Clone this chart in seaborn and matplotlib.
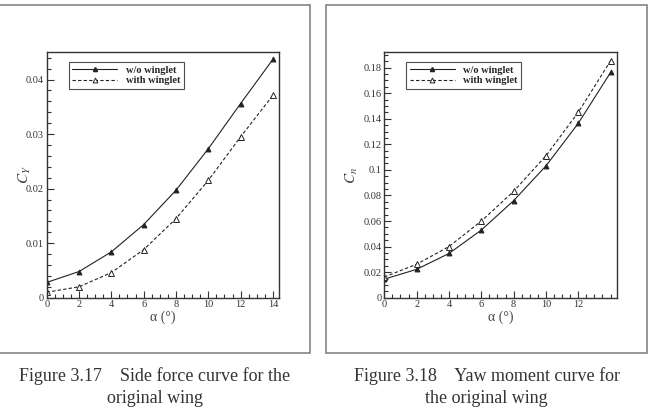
import numpy as np
import pandas as pd
import matplotlib
matplotlib.use("Agg")
import matplotlib.pyplot as plt
import seaborn as sns
from matplotlib.patches import Rectangle
from matplotlib.lines import Line2D
from matplotlib.ticker import MultipleLocator, FuncFormatter

# Data
alpha = [0, 2, 4, 6, 8, 10, 12, 14]
cy_wo = [0.0028, 0.0048, 0.0084, 0.0134, 0.0197, 0.0273, 0.0356, 0.0437]
cy_with = [0.0010, 0.0020, 0.0046, 0.0088, 0.0145, 0.0215, 0.0295, 0.0371]
cn_wo = [0.0145, 0.0222, 0.0346, 0.0529, 0.0759, 0.1031, 0.1364, 0.1762]
cn_with = [0.0162, 0.0262, 0.0400, 0.0599, 0.0832, 0.1110, 0.1450, 0.1853]

series_names = ["w/o winglet", "with winglet"]
left_xticks = [0, 2, 4, 6, 8, 10, 12, 14]
right_xticks = [0, 2, 4, 6, 8, 10, 12]
left_yticks = [0, 0.01, 0.02, 0.03, 0.04]
right_yticks = [0, 0.02, 0.04, 0.06, 0.08, 0.1, 0.12, 0.14, 0.16, 0.18]
captions = ["Figure 3.17    Side force curve for the\noriginal wing",
            "Figure 3.18    Yaw moment curve for\nthe original wing"]

sns.set_style("white")
plt.rcParams["font.family"] = ["Liberation Serif", "DejaVu Serif"]
plt.rcParams["mathtext.fontset"] = "stix"

fig = plt.figure(figsize=(6.48, 4.17), dpi=100)

# outer boxes around each figure
for x0, w in [(-0.003, 0.4815), (0.5031, 0.4960)]:
    fig.patches.append(Rectangle((x0, 0.1535), w, 0.8345, transform=fig.transFigure,
                                 fill=False, edgecolor="#7a7a7a", linewidth=1.1))


def draw_panel(rect, y_wo, y_with, ylim, yticks, ymin_step, xticks, ylabel, ylab_x):
    ax = fig.add_axes(rect)
    df = pd.DataFrame({"alpha": alpha + alpha,
                       "val": y_wo + y_with,
                       "case": [series_names[0]] * len(alpha) + [series_names[1]] * len(alpha)})
    sns.lineplot(data=df[df.case == series_names[0]], x="alpha", y="val", ax=ax,
                 color="#222222", linewidth=0.8, marker="^", markersize=3.5,
                 markerfacecolor="#222222", markeredgecolor="#222222")
    sns.lineplot(data=df[df.case == series_names[1]], x="alpha", y="val", ax=ax,
                 color="#222222", linewidth=0.8, linestyle=(0, (3, 2)), marker="^",
                 markersize=4.5, markerfacecolor="white", markeredgecolor="#222222",
                 markeredgewidth=0.7)
    ax.set_xlim(0, 14.4)
    ax.set_ylim(*ylim)
    ax.set_xticks(xticks)
    ax.set_yticks(yticks)
    ax.xaxis.set_minor_locator(MultipleLocator(0.5))
    ax.yaxis.set_minor_locator(MultipleLocator(ymin_step))
    ax.yaxis.set_major_formatter(FuncFormatter(lambda v, p: "%g" % v))
    ax.tick_params(which="both", direction="in", bottom=True, left=True, top=False,
                   right=False, labelsize=7.5, colors="#333333", labelcolor="#333333",
                   width=0.8, pad=2)
    ax.tick_params(which="major", length=5)
    ax.tick_params(which="minor", length=3)
    for s in ax.spines.values():
        s.set_color("#333333")
        s.set_linewidth(1.0)
    ax.set_xlabel("α (°)", fontsize=10, color="#444444", labelpad=1)
    ax.set_ylabel(ylabel, fontsize=11, color="#444444")
    ax.yaxis.set_label_coords(ylab_x, 0.5)
    handles = [Line2D([], [], color="#222222", lw=0.8, marker="^", markersize=3,
                      markerfacecolor="#222222"),
               Line2D([], [], color="#222222", lw=0.8, ls=(0, (3, 2)), marker="^",
                      markersize=3.5, markerfacecolor="white", markeredgewidth=0.7)]
    leg = ax.legend(handles, series_names, loc="upper left", bbox_to_anchor=(0.095, 0.962),
                    frameon=True, fancybox=False, handlelength=4.3, handletextpad=0.8,
                    borderpad=0.35, labelspacing=0.15, borderaxespad=0,
                    prop={"weight": "bold", "size": 7.5})
    leg.get_frame().set_edgecolor("#222222")
    leg.get_frame().set_linewidth(0.8)
    return ax


draw_panel([0.0721, 0.2861, 0.3590, 0.5885], cy_wo, cy_with, (0, 0.045),
           left_yticks, 0.002, left_xticks, "$C_Y$", -0.06)
draw_panel([0.5931, 0.2861, 0.3591, 0.5885], cn_wo, cn_with, (0, 0.192),
           right_yticks, 0.005, right_xticks, "$C_n$", -0.105)

fig.text(0.2385, 0.072, captions[0], ha="center", va="center", fontsize=13,
         color="#333333", linespacing=1.35)
fig.text(0.751, 0.072, captions[1], ha="center", va="center", fontsize=13,
         color="#333333", linespacing=1.35)

fig.savefig("out.png", dpi=100)
